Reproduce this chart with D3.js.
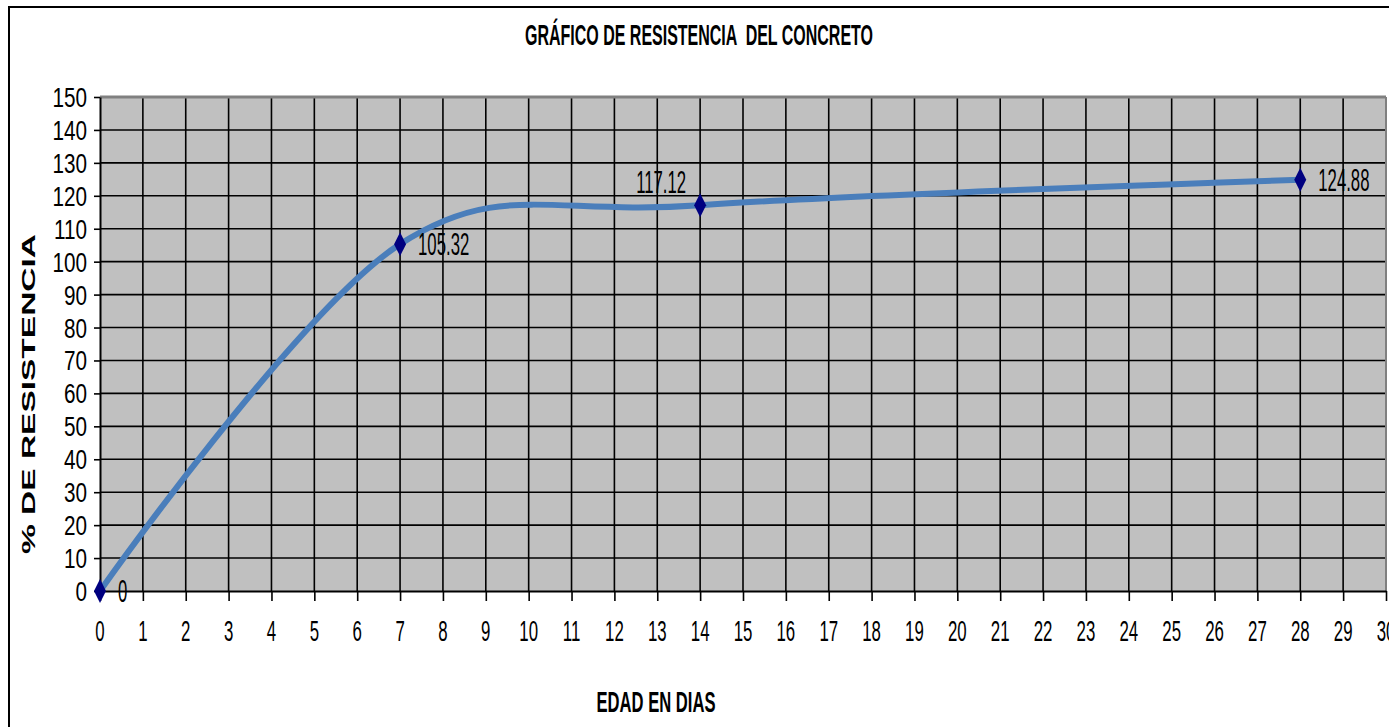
<!DOCTYPE html>
<html>
<head>
<meta charset="utf-8">
<script src="https://cdn.jsdelivr.net/npm/d3@7"></script>
<style>
  html, body { margin: 0; padding: 0; background: #ffffff; }
  svg { display: block; }
  text { font-family: "Liberation Sans", Arial, sans-serif; fill: #000; white-space: pre; }
</style>
</head>
<body>
<svg id="chart" width="1389" height="727"></svg>
<script>
// Concrete strength test results: age (days) vs. % of design strength
const ages = [0, 7, 14, 28];
const strength = [0, 105.32, 117.12, 124.88];
const valueLabels = ["0", "105.32", "117.12", "124.88"];
const labelSide = ["right", "right", "above-left", "right"];

const xTicks = d3.range(0, 31, 1);
const yTicks = d3.range(0, 151, 10);

const chartTitle = "GRÁFICO DE RESISTENCIA  DEL CONCRETO";
const xTitle = "EDAD EN DIAS";
const yTitle = "% DE RESISTENCIA";

const svg = d3.select("#chart");
const W = 1389, H = 727;
const plot = { left: 100, right: 1386, top: 97, bottom: 591 };

const x = d3.scaleLinear().domain([0, 30]).range([plot.left, plot.right]);
const y = d3.scaleLinear().domain([0, 150]).range([plot.bottom, plot.top]);

// chart frame (runs past the right and bottom edges)
svg.append("rect")
  .attr("x", 9).attr("y", 7)
  .attr("width", W + 20).attr("height", H + 20)
  .attr("fill", "#fff").attr("stroke", "#000").attr("stroke-width", 2);

// plot area
svg.append("rect")
  .attr("x", plot.left).attr("y", plot.top)
  .attr("width", plot.right - plot.left).attr("height", plot.bottom - plot.top)
  .attr("fill", "#c0c0c0");

// grid
const grid = svg.append("g").attr("stroke", "#000").attr("stroke-width", 1.6);
grid.selectAll("line.h").data(yTicks.filter(d => d > 0 && d < 150)).join("line")
  .attr("x1", plot.left).attr("x2", plot.right)
  .attr("y1", d => y(d)).attr("y2", d => y(d));
grid.selectAll("line.v").data(xTicks.filter(d => d > 0 && d < 30)).join("line")
  .attr("x1", d => x(d)).attr("x2", d => x(d))
  .attr("y1", plot.top).attr("y2", plot.bottom);

// plot border (top and right in grey)
svg.append("line")
  .attr("x1", plot.left).attr("x2", plot.right)
  .attr("y1", plot.top).attr("y2", plot.top)
  .attr("stroke", "#808080").attr("stroke-width", 3);
svg.append("line")
  .attr("x1", plot.right).attr("x2", plot.right)
  .attr("y1", plot.top).attr("y2", plot.bottom)
  .attr("stroke", "#808080").attr("stroke-width", 2);

// y axis
const yAxis = svg.append("g").attr("transform", `translate(${plot.left},0)`)
  .call(d3.axisLeft(y).tickValues(yTicks).tickSize(6).tickSizeOuter(0).tickFormat(""));
yAxis.select(".domain").attr("stroke", "#000").attr("stroke-width", 2);
yAxis.selectAll(".tick line").attr("stroke", "#000").attr("stroke-width", 1.6);

// x axis
const xAxis = svg.append("g").attr("transform", `translate(0,${plot.bottom})`)
  .call(d3.axisBottom(x).tickValues(xTicks).tickSize(10).tickSizeOuter(0).tickFormat(""));
xAxis.select(".domain").attr("stroke", "#000").attr("stroke-width", 2);
xAxis.selectAll(".tick line").attr("stroke", "#000").attr("stroke-width", 1.6);

// tick labels (narrow, tall lettering)
svg.append("g").selectAll("text").data(yTicks).join("text")
  .attr("transform", d => `translate(87,${y(d) + 10}) scale(0.74,1)`)
  .attr("text-anchor", "end")
  .attr("font-size", 28)
  .text(d => d);

svg.append("g").selectAll("text").data(xTicks).join("text")
  .attr("transform", d => `translate(${x(d)},641) scale(0.58,1)`)
  .attr("text-anchor", "middle")
  .attr("font-size", 29)
  .text(d => d);

// titles
svg.append("text")
  .attr("x", 699).attr("y", 45)
  .attr("text-anchor", "middle")
  .attr("font-size", 29).attr("font-weight", "bold")
  .attr("textLength", 348).attr("lengthAdjust", "spacingAndGlyphs")
  .text(chartTitle);

svg.append("text")
  .attr("x", 656).attr("y", 712)
  .attr("text-anchor", "middle")
  .attr("font-size", 29).attr("font-weight", "bold")
  .attr("textLength", 119).attr("lengthAdjust", "spacingAndGlyphs")
  .text(xTitle);

svg.append("text")
  .attr("transform", "translate(35,394) rotate(-90)")
  .attr("text-anchor", "middle")
  .attr("font-size", 18).attr("font-weight", "bold")
  .attr("textLength", 320).attr("lengthAdjust", "spacingAndGlyphs")
  .text(yTitle);

// smoothed series line
const pts = ages.map((a, i) => [a, strength[i]]);
const line = d3.line()
  .x(d => x(d[0])).y(d => y(d[1]))
  .curve(d3.curveCardinal.tension(0));
svg.append("path")
  .datum(pts)
  .attr("d", line)
  .attr("fill", "none")
  .attr("stroke", "#4a7ebb")
  .attr("stroke-width", 6)
  .attr("stroke-linecap", "round");

// diamond markers
const diamond = "M0,-12L6,0L0,12L-6,0Z";
svg.append("g").selectAll("path").data(pts).join("path")
  .attr("transform", d => `translate(${x(d[0])},${y(d[1])})`)
  .attr("d", diamond)
  .attr("fill", "#000080");

// value labels
svg.append("g").selectAll("text").data(pts).join("text")
  .attr("transform", (d, i) => {
    const px = x(d[0]), py = y(d[1]);
    return labelSide[i] === "above-left"
      ? `translate(${px - 14},${py - 12}) scale(0.54,1)`
      : `translate(${px + 18},${py + 11}) scale(0.54,1)`;
  })
  .attr("text-anchor", (d, i) => labelSide[i] === "above-left" ? "end" : "start")
  .attr("font-size", 31)
  .text((d, i) => valueLabels[i]);
</script>
</body>
</html>
